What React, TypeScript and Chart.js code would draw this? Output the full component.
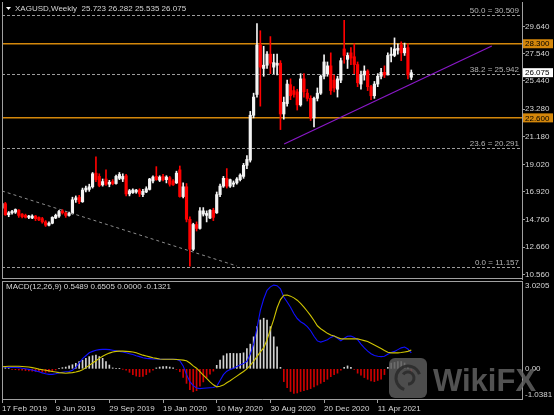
import React, { useEffect, useRef } from "react";
import { Chart, registerables } from "chart.js";

Chart.register(...registerables);

const FONT = "'Liberation Sans', Arial, sans-serif";
const TEXT = "#d6d6d6";
const FRAME = "#a0a0a0";
const UP = "#f4f4f4";
const DOWN = "#ff0000";
const ORANGE = "#d4870b";
const PURPLE = "#8a18c8";

// ---- data ----
const dateTickLabels = ["17 Feb 2019", "9 Jun 2019", "29 Sep 2019", "19 Jan 2020", "10 May 2020", "30 Aug 2020", "20 Dec 2020", "11 Apr 2021"];
const weeksPerDateTick = 16;
const weekSlots = 155;

const open = [
  15.65, 16.0, 15.15, 15.3, 15.35, 15.5, 15.2, 15.1, 14.95, 14.9,
  15.05, 14.95, 14.85, 14.6, 14.35, 14.5, 14.9, 15.05, 15.45, 15.3,
  15.1, 15.25, 16.3, 16.5, 16.15, 17.05, 17.1, 17.3, 18.35, 18.1,
  17.45, 17.9, 17.5, 17.7, 17.55, 17.95, 17.9, 18.15, 16.75, 16.85,
  16.9, 17.05, 16.7, 16.9, 17.1, 17.75, 18.1, 17.8, 18.1, 17.85,
  18.0, 17.75, 17.6, 18.6, 16.55, 17.3, 14.8, 12.5, 14.4, 14.1,
  15.2, 15.1, 14.9, 15.5, 15.3, 16.7, 17.35, 17.95, 17.35, 17.5,
  17.6, 17.85, 18.1, 18.95, 19.35, 22.8, 24.4, 28.2, 26.4, 26.65,
  27.5, 26.5, 26.65, 26.8, 22.9, 23.7, 25.15, 24.7, 24.6, 23.6,
  25.6, 24.5, 24.1, 22.6, 24.1, 24.5, 25.8, 26.0, 26.6, 25.5,
  24.8, 25.5, 27.9, 27.1, 27.6, 27.3, 26.7, 25.2, 25.9, 26.2,
  25.0, 24.3, 25.2, 25.8, 26.1, 25.9, 27.4, 27.4, 27.8, 28.2,
  27.6, 28.0, 25.723,
];
const high = [
  16.2, 16.1, 15.4, 15.5, 15.6, 15.55, 15.25, 15.2, 15.1, 15.15,
  15.1, 15.0, 14.95, 14.7, 14.6, 15.0, 15.2, 15.5, 15.55, 15.4,
  15.35, 16.5, 16.6, 16.65, 17.2, 17.35, 17.5, 18.4, 19.6, 18.3,
  17.9, 18.6, 17.8, 17.85, 18.2, 18.4, 18.3, 18.25, 17.1, 17.15,
  17.1, 17.15, 17.1, 17.3, 17.95, 18.15, 18.85, 18.15, 18.25, 18.15,
  18.1, 17.85, 18.5, 18.9, 17.6, 17.55, 15.0, 14.5, 14.6, 15.7,
  15.7, 15.45, 15.55, 15.65, 16.9, 17.5, 18.1, 18.7, 17.9, 17.75,
  18.0, 18.3, 19.1, 19.7, 23.1, 24.5, 29.85, 29.3, 28.1, 27.7,
  28.85, 27.5, 27.5, 27.0, 24.2, 25.5, 25.6, 25.0, 24.8, 26.0,
  26.0, 24.8, 24.3, 24.2, 24.9, 25.9, 27.45, 26.9, 27.6, 25.9,
  25.8, 27.2, 30.1, 27.6, 28.0, 28.3, 26.9, 26.2, 26.6, 26.3,
  25.1, 25.4, 26.0, 26.4, 26.6, 27.6, 28.0, 28.75, 28.3, 28.45,
  28.35, 28.3, 26.282,
];
const low = [
  15.6, 15.1, 15.0, 15.2, 15.25, 14.95, 14.9, 14.9, 14.85, 14.85,
  14.7, 14.7, 14.5, 14.25, 14.3, 14.45, 14.85, 14.95, 15.2, 14.95,
  15.05, 15.2, 16.1, 16.0, 16.1, 16.9, 16.95, 17.2, 17.7, 17.3,
  17.35, 17.4, 17.3, 17.45, 17.5, 17.85, 17.7, 16.6, 16.6, 16.8,
  16.8, 16.55, 16.55, 16.85, 17.05, 17.6, 17.8, 17.7, 17.75, 17.6,
  17.35, 17.4, 17.55, 16.5, 16.45, 14.6, 11.2, 12.4, 13.9, 14.05,
  15.05, 14.6, 14.85, 14.7, 15.25, 16.55, 17.25, 17.2, 17.25, 17.3,
  17.5, 17.75, 17.95, 18.7, 19.2, 22.6, 24.2, 23.5, 25.8, 26.4,
  26.0, 26.0, 25.9, 21.7, 22.5, 23.5, 24.0, 24.2, 23.2, 23.5,
  24.2, 23.9, 22.4, 21.9, 23.9, 24.4, 25.6, 25.8, 24.4, 24.6,
  24.2, 25.3, 26.8, 26.4, 26.7, 26.0, 25.0, 24.8, 25.5, 24.7,
  24.0, 24.1, 25.0, 25.6, 25.7, 25.9, 26.9, 27.3, 27.5, 27.0,
  27.4, 25.6, 25.535,
];
const close = [
  16.0, 15.15, 15.3, 15.4, 15.55, 15.1, 15.0, 14.95, 15.05, 15.05,
  14.85, 14.75, 14.6, 14.35, 14.5, 14.95, 15.1, 15.4, 15.3, 15.1,
  15.25, 16.3, 16.45, 16.15, 17.05, 17.2, 17.3, 18.3, 17.85, 17.4,
  17.7, 17.5, 17.65, 17.55, 18.1, 18.25, 18.1, 16.75, 17.0, 17.05,
  17.05, 16.75, 16.95, 17.15, 17.9, 18.05, 17.85, 18.05, 17.85, 18.05,
  17.5, 17.45, 18.35, 16.55, 17.3, 14.8, 12.5, 14.4, 14.1, 15.45,
  15.45, 15.25, 15.5, 14.95, 16.7, 17.35, 17.95, 17.35, 17.85, 17.6,
  17.9, 18.2, 18.95, 19.4, 22.8, 24.2, 28.2, 26.5, 26.65, 27.5,
  26.8, 26.85, 26.8, 22.9, 23.8, 25.2, 24.3, 24.4, 23.6, 25.6,
  24.6, 24.1, 22.6, 24.1, 24.5, 25.8, 26.9, 26.6, 24.7, 24.9,
  25.6, 27.0, 27.4, 27.4, 27.2, 26.7, 25.3, 25.9, 26.2, 25.0,
  24.3, 25.2, 25.8, 26.1, 25.9, 27.4, 27.5, 27.9, 27.95, 27.6,
  27.95, 25.9, 26.075,
];

const priceTicks = [29.64, 27.54, 25.44, 23.28, 21.18, 19.02, 16.92, 14.76, 12.66, 10.56];
const priceMin = 10.21;
const priceMax = 31.51;
const keyLevels = [28.3, 22.6];
const fibLevels = [30.509, 25.942, 20.291, 11.157];
const fibRatios = ["50.0", "38.2", "23.6", "0.0"];
const lastPrice = 26.075;
const supportTrend = [{ x: 84.1, y: 20.59 }, { x: 146, y: 28.13 }];
const downTrend = [{ x: 0, y: 16.98 }, { x: 70, y: 11.21 }];
const titleText = "XAGUSD,Weekly  25.723 26.282 25.535 26.075";

const macdMain = [
  0.07, 0.06, 0.05, 0.05, 0.05, 0.04, 0.02, 0.0, -0.02, -0.04,
  -0.07, -0.1, -0.14, -0.17, -0.19, -0.19, -0.17, -0.14, -0.12, -0.1,
  -0.09, -0.05, 0.05, 0.2, 0.35, 0.45, 0.55, 0.6, 0.64, 0.66,
  0.67, 0.67, 0.66, 0.64, 0.62, 0.6, 0.58, 0.55, 0.52, 0.49,
  0.45, 0.42, 0.38, 0.36, 0.35, 0.34, 0.34, 0.33, 0.33, 0.33,
  0.33, 0.33, 0.33, 0.28, 0.1, -0.2, -0.44, -0.58, -0.66, -0.68,
  -0.67, -0.66, -0.65, -0.64, -0.6, -0.4, -0.2, -0.08, -0.02, 0.02,
  0.08, 0.13, 0.18, 0.26, 0.5, 0.85, 1.4, 2.0, 2.4, 2.7,
  2.82, 2.88, 2.86, 2.75, 2.47, 2.3, 2.12, 1.9, 1.73, 1.62,
  1.55, 1.45, 1.31, 1.12, 0.96, 0.92, 0.96, 1.0, 1.08, 1.13,
  1.05, 0.96, 1.05, 1.12, 1.13, 1.08, 1.0, 0.85, 0.72, 0.61,
  0.52, 0.46, 0.43, 0.42, 0.43, 0.5, 0.56, 0.6, 0.66, 0.72,
  0.75, 0.68, 0.5489,
];
const macdSignal = [
  0.07, 0.08, 0.09, 0.09, 0.09, 0.09, 0.08, 0.07, 0.06, 0.04,
  0.02, -0.01, -0.03, -0.05, -0.07, -0.09, -0.11, -0.13, -0.14, -0.15,
  -0.14, -0.13, -0.11, -0.08, -0.03, 0.04, 0.12, 0.2, 0.28, 0.36,
  0.43, 0.49, 0.54, 0.58, 0.6, 0.61, 0.61, 0.6, 0.59, 0.58,
  0.55, 0.51, 0.47, 0.44, 0.41, 0.38, 0.36, 0.34, 0.33, 0.33,
  0.33, 0.33, 0.32, 0.31, 0.3, 0.28, 0.2, 0.1, 0.02, -0.1,
  -0.22, -0.33, -0.45, -0.55, -0.62, -0.6, -0.56, -0.48, -0.41, -0.33,
  -0.25, -0.17, -0.09, 0.0, 0.12, 0.26, 0.42, 0.58, 0.72, 1.0,
  1.35, 1.7, 2.1, 2.38, 2.53, 2.54, 2.5, 2.44, 2.36, 2.25,
  2.12, 1.98, 1.83, 1.66, 1.48, 1.38, 1.3, 1.22, 1.16, 1.13,
  1.08, 1.03, 1.03, 1.03, 1.03, 1.03, 1.03, 1.0, 0.97, 0.94,
  0.88, 0.82, 0.76, 0.7, 0.63, 0.57, 0.55, 0.55, 0.55, 0.56,
  0.58, 0.6, 0.6505,
];
const macdHist = [
  0.06, 0.04, 0.02, -0.02, -0.03, -0.04, -0.05, -0.06, -0.07, -0.08,
  -0.09, -0.1, -0.11, -0.12, -0.11, -0.09, -0.04, 0.02, 0.04, 0.06,
  0.1, 0.14, 0.19, 0.25, 0.3, 0.36, 0.42, 0.45, 0.47, 0.42,
  0.36, 0.25, 0.13, 0.03, 0.01, 0.01, -0.01, -0.05, -0.12, -0.2,
  -0.25, -0.27, -0.26, -0.2, -0.12, -0.05, 0.03, 0.06, 0.08, 0.08,
  0.06, 0.03, -0.02, -0.1, -0.3, -0.5, -0.72, -0.79, -0.75, -0.6,
  -0.45, -0.3, -0.18, -0.08, 0.12, 0.3, 0.45, 0.52, 0.53, 0.53,
  0.52, 0.53, 0.55, 0.7, 0.85, 1.1, 1.45, 1.68, 1.74, 1.68,
  1.45, 1.1, 0.76, 0.05, -0.44, -0.65, -0.78, -0.85, -0.83, -0.78,
  -0.75, -0.72, -0.68, -0.62, -0.56, -0.5, -0.44, -0.36, -0.27, -0.2,
  -0.15, -0.05, 0.05, 0.1, 0.05, -0.02, -0.15, -0.22, -0.3, -0.36,
  -0.42, -0.44, -0.4, -0.36, -0.2, 0.05, 0.2, 0.22, 0.25, 0.25,
  0.2, 0.05, -0.1321,
];
const macdTicks = [3.0205, 0, -1.0381];
const macdMin = -1.0381;
const macdMax = 3.0205;
const macdTitle = "MACD(12,26,9) 0.5489 0.6505 0.0000 -0.1321";

// ---- helpers ----
const candleColors = open.map((o, i) => (close[i] >= o ? UP : DOWN));

function hLine(ctx: CanvasRenderingContext2D, x1: number, x2: number, y: number) {
  ctx.beginPath();
  ctx.moveTo(x1, y);
  ctx.lineTo(x2, y);
  ctx.stroke();
}
function vLine(ctx: CanvasRenderingContext2D, x: number, y1: number, y2: number) {
  ctx.beginPath();
  ctx.moveTo(x, y1);
  ctx.lineTo(x, y2);
  ctx.stroke();
}

const mainOverlay = {
  id: "mainOverlay",
  beforeDatasetsDraw(chart: any) {
    const { ctx, chartArea: a } = chart;
    const y = chart.scales.y;
    ctx.save();
    ctx.beginPath();
    ctx.rect(a.left, a.top, a.right - a.left, a.bottom - a.top);
    ctx.clip();
    ctx.lineWidth = 1;
    ctx.strokeStyle = "#9c9c9c";
    ctx.setLineDash([3, 2]);
    fibLevels.forEach((v) => hLine(ctx, a.left, a.right, Math.round(y.getPixelForValue(v)) + 0.5));
    ctx.setLineDash([]);
    ctx.strokeStyle = ORANGE;
    ctx.lineWidth = 1.5;
    keyLevels.forEach((v) => hLine(ctx, a.left, a.right, y.getPixelForValue(v)));
    ctx.restore();
  },
  afterDraw(chart: any) {
    const { ctx, chartArea: a } = chart;
    const y = chart.scales.y;
    ctx.save();
    ctx.strokeStyle = FRAME;
    ctx.lineWidth = 1;
    vLine(ctx, a.left + 0.5, a.top, a.bottom);
    hLine(ctx, a.left, a.right, a.bottom - 0.5);
    ctx.font = `8px ${FONT}`;
    ctx.fillStyle = "#b4b4b4";
    ctx.textAlign = "right";
    ctx.textBaseline = "alphabetic";
    fibLevels.forEach((v, k) => {
      ctx.fillText(`${fibRatios[k]} = ${v.toFixed(3)}`, a.right - 3, y.getPixelForValue(v) - 2);
    });
    ctx.textAlign = "left";
    ctx.textBaseline = "middle";
    const box = (v: number, bg: string) => {
      const py = y.getPixelForValue(v);
      ctx.fillStyle = bg;
      ctx.fillRect(a.right + 1, py - 4.5, 30, 9);
      ctx.fillStyle = "#000";
      ctx.fillText(v.toFixed(3), a.right + 3, py + 0.5);
    };
    keyLevels.forEach((v) => box(v, ORANGE));
    box(lastPrice, "#ffffff");
    ctx.fillStyle = "#ffffff";
    ctx.beginPath();
    ctx.moveTo(6, 7);
    ctx.lineTo(11, 7);
    ctx.lineTo(8.5, 10);
    ctx.closePath();
    ctx.fill();
    ctx.fillStyle = TEXT;
    ctx.textBaseline = "middle";
    ctx.fillText(titleText, 15, 8.5);
    ctx.restore();
  },
};

const macdOverlay = {
  id: "macdOverlay",
  afterDraw(chart: any) {
    const { ctx, chartArea: a } = chart;
    const y = chart.scales.y;
    ctx.save();
    ctx.strokeStyle = FRAME;
    ctx.lineWidth = 1;
    vLine(ctx, a.left + 0.5, a.top, a.bottom);
    hLine(ctx, a.left, a.right, a.top + 0.5);
    ctx.font = `8px ${FONT}`;
    ctx.fillStyle = TEXT;
    ctx.textAlign = "left";
    ctx.textBaseline = "middle";
    ctx.fillText(macdTitle, 6, 6.5);
    macdTicks.forEach((v) => {
      const py = Math.min(Math.max(y.getPixelForValue(v), a.top + 5), a.bottom - 4);
      ctx.fillText(v === 0 ? "0.00" : v.toFixed(4), a.right + 3, py);
    });
    ctx.globalAlpha = 0.85;
    ctx.fillStyle = "#5a5a5a";
    const bx = 389, by = 78, bw = 38, bh = 40, r = 6;
    ctx.beginPath();
    ctx.moveTo(bx + r, by);
    ctx.arcTo(bx + bw, by, bx + bw, by + bh, r);
    ctx.arcTo(bx + bw, by + bh, bx, by + bh, r);
    ctx.arcTo(bx, by + bh, bx, by, r);
    ctx.arcTo(bx, by, bx + bw, by, r);
    ctx.closePath();
    ctx.fill();
    ctx.strokeStyle = "#2a2a2a";
    ctx.lineWidth = 3;
    ctx.beginPath();
    ctx.arc(bx + bw / 2, by + bh / 2, 12, Math.PI * 0.6, Math.PI * 1.9);
    ctx.stroke();
    ctx.beginPath();
    ctx.arc(bx + bw / 2, by + bh / 2, 6, Math.PI * 1.2, Math.PI * 2.5);
    ctx.stroke();
    ctx.fillStyle = "#606060";
    ctx.font = `bold 31px ${FONT}`;
    ctx.textBaseline = "alphabetic";
    ctx.fillText("WikiFX", 433, 111);
    ctx.restore();
  },
};

function zeroPad(s: any) {
  s.paddingTop = 0;
  s.paddingBottom = 0;
  s.paddingLeft = 0;
  s.paddingRight = 0;
}

export default function App() {
  const mainRef = useRef<HTMLCanvasElement>(null);
  const macdRef = useRef<HTMLCanvasElement>(null);

  useEffect(() => {
    const font = { family: FONT, size: 8 };
    const main = new Chart(mainRef.current as HTMLCanvasElement, {
      type: "bar",
      data: {
        datasets: [
          {
            type: "line",
            data: supportTrend,
            borderColor: PURPLE,
            borderWidth: 1.2,
            pointRadius: 0,
            order: 0,
          } as any,
          {
            type: "line",
            data: downTrend,
            borderColor: "#8c8c8c",
            borderWidth: 1,
            borderDash: [3, 3],
            pointRadius: 0,
            order: 0,
          } as any,
          {
            type: "bar",
            data: open.map((o, i) => ({ x: i, y: [o, close[i]] })),
            backgroundColor: candleColors,
            barThickness: 2.5,
            minBarLength: 1,
            grouped: false,
            order: 1,
          } as any,
          {
            type: "bar",
            data: low.map((l, i) => ({ x: i, y: [l, high[i]] })),
            backgroundColor: candleColors,
            barThickness: 1,
            grouped: false,
            order: 2,
          } as any,
        ],
      },
      options: {
        animation: false,
        responsive: false,
        devicePixelRatio: 1,
        events: [],
        layout: { padding: { left: 2, top: 2, bottom: 1, right: 0 } },
        plugins: { legend: { display: false }, tooltip: { enabled: false } },
        scales: {
          x: { type: "linear", min: 0, max: weekSlots, offset: false, display: false, grid: { offset: false } },
          y: {
            position: "right",
            min: priceMin,
            max: priceMax,
            beginAtZero: false,
            afterBuildTicks: (s: any) => {
              s.ticks = priceTicks.map((v) => ({ value: v }));
            },
            afterFit: (s: any) => {
              s.width = 32;
              zeroPad(s);
            },
            ticks: {
              color: TEXT,
              font,
              padding: 0,
              autoSkip: false,
              callback: (v: any) => Number(v).toFixed(3),
            },
            grid: { drawOnChartArea: false, tickLength: 3, color: FRAME },
            border: { color: FRAME },
          },
        },
      } as any,
      plugins: [mainOverlay],
    });

    const macd = new Chart(macdRef.current as HTMLCanvasElement, {
      type: "bar",
      data: {
        datasets: [
          {
            type: "line",
            data: macdSignal.map((v, i) => ({ x: i, y: v })),
            borderColor: "#cfc400",
            borderWidth: 1.1,
            pointRadius: 0,
            order: 0,
          } as any,
          {
            type: "line",
            data: macdMain.map((v, i) => ({ x: i, y: v })),
            borderColor: "#1010ff",
            borderWidth: 1.1,
            pointRadius: 0,
            order: 1,
          } as any,
          {
            type: "bar",
            data: macdHist.map((v, i) => ({ x: i, y: v })),
            backgroundColor: macdHist.map((v) => (v >= 0 ? "#d2d2d2" : "#d00000")),
            barThickness: 1,
            grouped: false,
            order: 2,
          } as any,
        ],
      },
      options: {
        animation: false,
        responsive: false,
        devicePixelRatio: 1,
        events: [],
        layout: { padding: { left: 2, top: 1, bottom: 0, right: 0 } },
        plugins: { legend: { display: false }, tooltip: { enabled: false } },
        scales: {
          x: {
            type: "linear",
            min: 0,
            max: weekSlots,
            offset: false,
            position: "bottom",
            afterBuildTicks: (s: any) => {
              s.ticks = dateTickLabels.map((_, k) => ({ value: k * weeksPerDateTick }));
            },
            afterFit: (s: any) => {
              s.height = 16;
              zeroPad(s);
            },
            ticks: {
              color: TEXT,
              font,
              align: "start",
              padding: 1,
              autoSkip: false,
              maxRotation: 0,
              callback: (_v: any, idx: number) => dateTickLabels[idx],
            },
            grid: { drawOnChartArea: false, tickLength: 4, color: FRAME, offset: false },
            border: { color: FRAME },
          },
          y: {
            position: "right",
            min: macdMin,
            max: macdMax,
            beginAtZero: false,
            afterFit: (s: any) => {
              s.width = 32;
              zeroPad(s);
            },
            ticks: { display: false },
            grid: { drawOnChartArea: false, drawTicks: false },
            border: { color: FRAME },
          },
        },
      } as any,
      plugins: [macdOverlay],
    });

    return () => {
      main.destroy();
      macd.destroy();
    };
  }, []);

  return (
    <div style={{ position: "fixed", left: 0, top: 0, width: 554, height: 415, background: "#000", overflow: "hidden" }}>
      <canvas ref={mainRef} width={554} height={280} style={{ position: "absolute", left: 0, top: 0, width: 554, height: 280 }} />
      <canvas ref={macdRef} width={554} height={135} style={{ position: "absolute", left: 0, top: 280, width: 554, height: 135 }} />
    </div>
  );
}
